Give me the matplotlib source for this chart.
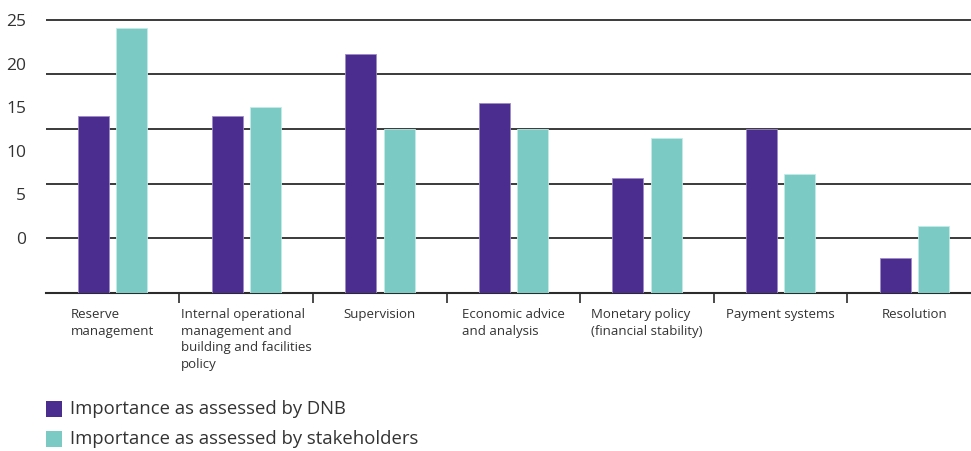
import matplotlib
matplotlib.use("Agg")
import matplotlib.pyplot as plt
from matplotlib.patches import Rectangle
import numpy as np

plt.rcParams['font.family'] = ['Open Sans', 'DejaVu Sans']

categories = ["Reserve\nmanagement",
              "Internal operational\nmanagement and\nbuilding and facilities\npolicy",
              "Supervision",
              "Economic advice\nand analysis",
              "Monetary policy\n(financial stability)",
              "Payment systems",
              "Resolution"]
dnb = [16.2, 16.2, 21.9, 17.4, 10.5, 15.0, 3.2]
stakeholders = [24.3, 17.0, 15.0, 15.0, 14.2, 10.9, 6.1]
ytick_pos = [25, 21, 17, 13, 9, 5]
ytick_labels = ["25", "20", "15", "10", "5", "0"]
series_names = ["Importance as assessed by DNB", "Importance as assessed by stakeholders"]

purple = "#4a2d8f"
teal = "#7bcbc4"
ink = "#333333"

W, H = 971, 451
fig = plt.figure(figsize=(W / 100, H / 100), dpi=100)
left_px, right_px = 45.7, 981
bottom_px, top_px = 292.7, 9.0
ax = fig.add_axes([left_px / W, 1 - bottom_px / H,
                   (right_px - left_px) / W, (bottom_px - top_px) / H])

x = np.arange(len(categories))
w = 0.232
ax.bar(x - 0.143, dnb, w, color=purple, edgecolor="#9d8cc4", linewidth=0.6, zorder=3)
ax.bar(x + 0.145, stakeholders, w, color=teal, edgecolor="#c2ebe7", linewidth=0.6, zorder=3)

for g in [5, 10, 15, 20, 25]:
    ax.axhline(g, color="#2b2b2b", lw=1.3, zorder=1)

ax.set_xlim(-0.5, len(categories) - 0.5)
ax.set_ylim(0, 26)

for s in ["top", "right", "left"]:
    ax.spines[s].set_visible(False)
ax.spines["bottom"].set_color("#2b2b2b")
ax.spines["bottom"].set_linewidth(1.5)

ax.set_yticks(ytick_pos)
ax.set_yticklabels(ytick_labels, fontsize=12.5, color=ink)
ax.tick_params(axis="y", length=0, pad=14)

ax.set_xticks(x)
ax.set_xticklabels(categories, fontsize=9.5, color=ink, multialignment="left",
                   linespacing=1.36, va="top")
ax.tick_params(axis="x", which="major", length=0, pad=11)
ax.set_xticks(np.arange(0.5, len(categories) - 0.5), minor=True)
ax.tick_params(axis="x", which="minor", length=7, width=1.2, color="#2b2b2b")

# legend drawn by hand: squares plus labels
for i, (name, col) in enumerate(zip(series_names, [purple, teal])):
    y0 = 401 + i * 30
    fig.patches.append(Rectangle((46 / W, 1 - (y0 + 16) / H), 16 / W, 16 / H,
                                 transform=fig.transFigure, facecolor=col, edgecolor="none"))
    fig.text(70 / W, 1 - (y0 + 8.5) / H, name, fontsize=13.3, color=ink, va="center", ha="left")

fig.savefig("out.png", dpi=100)
